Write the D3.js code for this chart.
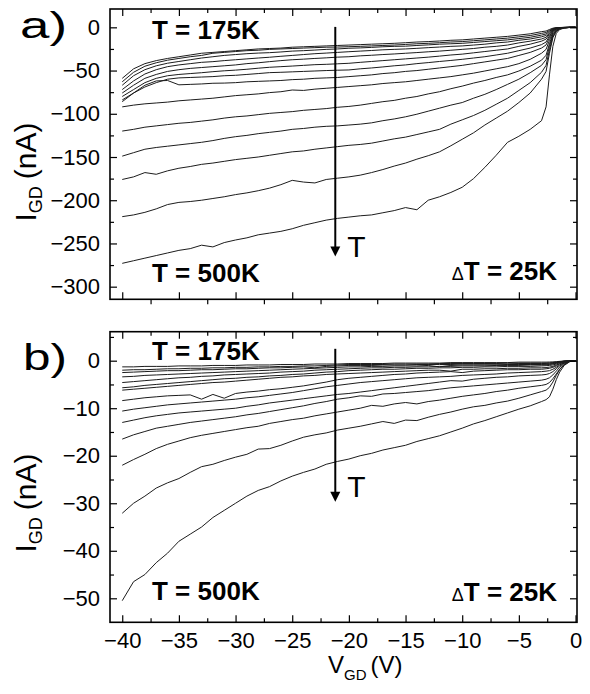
<!DOCTYPE html>
<html>
<head>
<meta charset="utf-8">
<script src="https://cdn.jsdelivr.net/npm/d3@7"></script>
<style>
  body { margin: 0; background: #fff; }
  svg { display: block; }
  text { font-family: "Liberation Sans", Arial, Helvetica, sans-serif; fill: #000; }
</style>
</head>
<body>
<svg id="chart" width="590" height="694"></svg>
<script>

// V_GD grid (V), shared by every curve
var vgd = [-40, -39, -38, -37, -36, -35, -34, -33, -32, -31, -30, -29, -28, -27, -26, -25, -24, -23, -22, -21,
  -20, -19, -18, -17, -16, -15, -14, -13, -12, -11, -10, -9, -8, -7, -6, -5, -4,
  -3, -2.6, -2.3, -2, -1.7, -1.4, -1, -0.5, 0];

// temperatures of the curves, 175 K to 500 K in 25 K steps
var temps = [175, 200, 225, 250, 275, 300, 325, 350, 375, 400, 425, 450, 475, 500];

// panel a : I_GD (nA), one array per temperature
var a175 = [-59, -48, -42, -38.5, -36, -34, -32, -30, -29, -28, -27, -26, -25, -24.5, -24, -23, -22.5, -22, -21.5, -21, -20.5, -20, -19.5, -19, -18.5, -17.8, -17, -16.5, -15.8, -15, -14.5, -13.5, -12.5, -11.5, -10.5, -9, -7.5, -5, -4.3, -2.5, -1, -0.4, -0.2, -0.1, 0, 0];
var a200 = [-63, -52, -45, -41, -38, -36, -34, -32.5, -30, -29, -28, -27, -26.5, -25.5, -25, -24.5, -24, -23.5, -23, -22.8, -22.4, -22, -21.5, -21, -20.5, -19.8, -19, -18.5, -17.8, -17, -16.5, -15.5, -14.5, -13.5, -12.5, -11, -9.5, -7, -6, -3.5, -1.4, -0.6, -0.25, -0.1, 0, 0];
var a225 = [-67, -56, -49, -44.5, -41.5, -39.5, -37.5, -35.5, -34, -32.5, -31.5, -30.5, -29.8, -29.3, -28.5, -27.5, -27, -26.3, -25.5, -25, -24.2, -23.8, -23.2, -22.5, -22, -21.8, -21, -20.3, -19.5, -19, -18.5, -17.5, -16.5, -15.5, -14.5, -13, -11.5, -9, -7.7, -4.5, -1.8, -0.7, -0.3, -0.1, 0, 0];
var a250 = [-72, -62, -54, -49, -45.5, -43.5, -42, -40.5, -39.7, -38.5, -37.5, -36.5, -35.5, -34.6, -33.5, -32.5, -31.5, -30.5, -29.8, -29, -28.2, -27.5, -26.8, -26, -25.5, -25, -24.3, -23.5, -22.8, -22, -21.5, -20.5, -19.5, -18, -17, -15, -13.5, -11, -9.4, -5.5, -2.2, -0.9, -0.4, -0.1, 0, 0];
var a275 = [-76, -67, -59, -54.5, -51, -49, -47.5, -46.5, -45.5, -44.5, -43.5, -42, -41, -39.7, -38.5, -37.5, -36.8, -36, -35.3, -34.5, -34, -33, -32.3, -31.5, -30.8, -30, -29.2, -28.3, -27.5, -26.5, -25.5, -24.5, -23, -22, -20.5, -18, -16, -13.5, -11.5, -6.8, -2.7, -1.1, -0.5, -0.2, 0, 0];
var a300 = [-80, -72, -64, -59, -56, -54.5, -53.5, -52.5, -51.3, -50.3, -49.5, -48.5, -47.3, -46.2, -45.5, -44.8, -44, -43.2, -42.8, -42.2, -41.6, -40.5, -39.5, -38.5, -37.5, -36.5, -35.5, -34.5, -33.3, -32, -31, -29.5, -28, -26.5, -25, -22, -19.5, -16, -13.6, -8, -3.2, -1.3, -0.6, -0.2, 0, 0];
var a325 = [-84, -76, -69, -64, -60, -58.5, -58, -57.5, -57, -56, -55.5, -54.5, -53.5, -52.4, -52, -51.5, -51, -50.5, -50, -49.6, -49.3, -48, -47, -45.8, -44.5, -43.5, -42, -40.8, -39.5, -38.3, -37, -35.5, -34, -32, -30, -27, -24, -20, -17, -10, -4, -1.6, -0.7, -0.2, 0, 0];
var a350 = [-86, -76, -67, -62, -61.5, -66.5, -66, -65.5, -64.7, -64.5, -64, -63, -62.5, -62, -61.5, -60.5, -60, -59, -58.5, -58, -57, -56, -55, -53.5, -52.5, -51, -50, -48.5, -47, -45.5, -44, -42, -40, -38, -36, -32.5, -29, -24, -20.4, -12, -4.8, -1.9, -0.8, -0.3, 0, 0];
var a375 = [-92, -90, -88.5, -87.5, -86.5, -85, -84, -83, -82, -80.5, -79, -78, -77, -75.5, -74.5, -72.5, -73, -71.5, -70.5, -69.5, -68.5, -67.5, -66.5, -65, -64, -63, -61.5, -60, -58.5, -57, -55, -53, -50.5, -48, -45.5, -42, -37, -30, -25.5, -15, -6, -2.4, -1, -0.4, -0.1, 0];
var a400 = [-120, -118, -115.5, -114, -112.5, -111, -110, -108.5, -107, -105, -103.5, -102.5, -101, -99.5, -98.5, -97.5, -96, -95, -94, -92.5, -91.5, -90, -88, -86, -84.5, -82, -80, -77, -74.5, -71, -68, -64.5, -61.5, -58, -55, -50.5, -45, -38, -32.3, -19, -7.6, -3, -1.3, -0.5, -0.1, 0];
var a425 = [-149, -145, -141, -139, -137.5, -136, -134.5, -133, -131, -128.5, -126.5, -125, -123, -121.5, -120, -118, -117, -115.5, -114.5, -114, -113, -112, -110.5, -108, -106, -103.5, -100.5, -97, -93.5, -90, -87, -82, -77.5, -72, -66, -60, -52.5, -44, -37.4, -22, -8.8, -3.5, -1.5, -0.5, -0.1, 0];
var a450 = [-176, -173, -168, -170, -166, -163, -161, -158.5, -157, -155, -153, -151.5, -150, -148, -146, -144, -143, -141, -139.5, -138, -136.5, -135.5, -134, -131.5, -129, -127, -124, -121, -118, -112, -107, -102, -96, -89, -82, -73, -64, -52, -44, -26, -10.5, -4.2, -1.8, -0.6, -0.1, 0];
var a475 = [-219, -217, -214, -210, -205, -202.5, -201.5, -200, -198, -196, -193.5, -191.5, -189, -186, -182, -177, -179, -180, -176, -174.5, -173, -171, -168, -164.5, -160.5, -157, -152.5, -148.5, -144, -137, -129.5, -122, -113, -105, -97, -87, -76, -60, -51, -30, -12, -4.8, -2, -0.7, -0.1, 0];
var a500 = [-273, -270, -267, -264, -261, -258, -256, -252, -254, -249, -246, -243.5, -240, -238, -236, -233, -229, -226, -223, -221, -219.5, -218, -217, -214.5, -212, -208.5, -211, -200, -196, -191, -185, -175, -162, -148, -133, -126, -118, -108, -92, -55, -22, -7, -2.5, -0.9, -0.2, 0];
var curvesA = [a175, a200, a225, a250, a275, a300, a325, a350, a375, a400, a425, a450, a475, a500];

// panel b : I_GD (nA), one array per temperature
var b175 = [-1.3, -1.3, -1.2, -1.2, -1.2, -1.1, -1.1, -1.1, -1, -1, -1, -0.9, -0.9, -0.9, -0.8, -0.8, -0.8, -0.7, -0.7, -0.7, -0.6, -0.6, -0.6, -0.6, -0.5, -0.5, -0.5, -0.5, -0.5, -0.4, -0.4, -0.4, -0.4, -0.4, -0.4, -0.3, -0.3, -0.3, -0.3, -0.28, -0.25, -0.2, -0.14, -0.06, -0.01, 0];
var b200 = [-2, -1.9, -1.9, -1.8, -1.7, -1.7, -1.6, -1.6, -1.5, -1.5, -1.4, -1.4, -1.3, -1.3, -1.2, -1.2, -1.1, -1.1, -1, -0.9, -0.8, -0.8, -0.8, -0.8, -0.7, -0.7, -0.7, -0.7, -0.6, -0.6, -0.6, -0.6, -0.6, -0.6, -0.5, -0.5, -0.5, -0.5, -0.48, -0.45, -0.4, -0.32, -0.22, -0.1, -0.02, 0];
var b225 = [-2.5, -2.4, -2.3, -2.2, -2.1, -2.1, -2, -1.9, -1.9, -1.8, -1.7, -1.7, -1.6, -1.5, -1.5, -1.4, -1.3, -1.5, -1.2, -1.1, -1, -1, -1, -0.9, -0.9, -0.9, -0.8, -0.8, -0.8, -0.8, -0.7, -0.7, -0.7, -0.7, -0.7, -0.6, -0.6, -0.6, -0.58, -0.55, -0.48, -0.38, -0.25, -0.1, -0.02, 0];
var b250 = [-3.4, -3.3, -3.1, -3, -2.9, -2.8, -2.7, -2.6, -2.5, -2.4, -2.3, -2.2, -2.1, -2, -1.9, -1.8, -1.7, -1.6, -1.5, -1.4, -1.3, -1.3, -1.2, -1.2, -1.1, -1.1, -1.1, -1, -1.3, -1, -0.9, -0.9, -0.9, -0.9, -0.8, -0.8, -0.8, -0.8, -0.75, -0.7, -0.6, -0.45, -0.3, -0.12, -0.02, 0];
var b275 = [-4.6, -4.4, -4.2, -4, -3.8, -3.6, -3.5, -3.3, -3.2, -3, -2.9, -2.8, -2.7, -2.6, -2.4, -2.3, -2.2, -2, -1.9, -1.8, -1.7, -1.6, -1.5, -1.5, -1.4, -1.4, -1.3, -1.3, -1.2, -1.2, -1.1, -1.1, -1.1, -1, -1, -1, -0.9, -0.9, -0.85, -0.8, -0.7, -0.55, -0.35, -0.15, -0.03, 0];
var b300 = [-5.7, -5.5, -5.2, -5, -4.8, -4.6, -4.4, -4.2, -4, -3.8, -3.7, -3.5, -3.4, -3.2, -3.1, -2.9, -2.8, -2.6, -2.4, -2.3, -2.1, -2, -1.9, -1.8, -1.8, -1.7, -1.6, -1.6, -1.5, -1.5, -1.4, -1.4, -1.3, -1.3, -1.2, -1.2, -1.2, -1.1, -1.05, -1, -0.9, -0.7, -0.45, -0.2, -0.05, 0];
var b325 = [-6.2, -6, -5.8, -5.6, -5.4, -5.2, -5, -4.8, -4.6, -4.5, -4.3, -4.1, -3.9, -3.7, -3.5, -3.4, -3.2, -3.1, -2.9, -2.8, -2.7, -2.6, -2.5, -2.4, -2.3, -2.2, -2.1, -2, -2, -2.2, -1.8, -1.8, -1.7, -1.7, -1.6, -1.6, -1.5, -1.5, -1.45, -1.35, -1.2, -0.9, -0.6, -0.25, -0.05, 0];
var b350 = [-8.4, -8.1, -7.8, -7.6, -7.4, -7.3, -7.2, -8.1, -7.1, -7.9, -6.9, -6.6, -6.4, -6.1, -5.9, -5.6, -5.3, -4.9, -4.5, -4, -3.7, -3.5, -3.3, -3.1, -2.9, -2.8, -2.6, -2.5, -2.4, -2.3, -2.5, -2.2, -2.1, -2, -1.9, -1.9, -1.8, -1.8, -1.7, -1.6, -1.4, -1.1, -0.7, -0.3, -0.05, 0];
var b375 = [-10.6, -10.2, -9.9, -9.6, -9.3, -9.1, -8.9, -8.7, -8.5, -8.3, -8.1, -7.8, -7.6, -7.3, -7, -6.7, -6.3, -5.9, -5.5, -5.2, -4.9, -4.6, -4.4, -4.2, -4, -3.8, -3.6, -3.5, -3.4, -3.3, -3.1, -3, -2.9, -2.8, -2.6, -2.5, -2.4, -2.3, -2.2, -2.1, -1.8, -1.4, -0.9, -0.4, -0.1, 0];
var b400 = [-13, -12.5, -12, -11.6, -11.3, -11, -10.8, -10.6, -10.4, -10.2, -10, -9.6, -9.3, -8.9, -8.6, -8.3, -8, -7.7, -7.4, -7.1, -6.9, -6.6, -6.3, -6, -5.7, -5.4, -5.1, -4.8, -4.5, -4.2, -4.3, -3.9, -3.7, -3.5, -3.4, -3.2, -3.1, -3, -2.9, -2.7, -2.3, -1.7, -1.1, -0.5, -0.1, 0];
var b425 = [-16.5, -15.6, -14.9, -14.2, -13.8, -13.4, -13, -12.7, -12.4, -12.1, -11.8, -11.4, -11.1, -10.7, -10.3, -9.9, -9.5, -9, -8.6, -8.1, -7.8, -7.4, -7.5, -7, -6.9, -6.7, -6.5, -6.3, -6, -5.7, -5.5, -5.3, -5.1, -4.9, -4.7, -4.5, -4.3, -4.1, -3.9, -3.6, -3, -2.2, -1.4, -0.6, -0.1, 0];
var b450 = [-22, -20.8, -19.7, -18.5, -17.6, -16.9, -16.2, -15.7, -15.3, -14.9, -14.5, -14.1, -13.8, -13.2, -12.8, -12.4, -12.1, -11.6, -11.2, -10.8, -10.4, -10, -9.4, -9.6, -9.1, -8.8, -9.1, -8.6, -8.3, -7.9, -7.5, -7.2, -6.9, -6.5, -6.2, -5.8, -5.5, -5.2, -5, -4.6, -3.8, -2.8, -1.8, -0.8, -0.15, 0];
var b475 = [-32.1, -30, -28.5, -26.8, -25.7, -24.8, -23.5, -22.3, -21.8, -21, -20.3, -19.7, -18.6, -18.5, -17.8, -16.9, -16.1, -15.6, -15.2, -14.6, -14.2, -13.8, -13.3, -12.8, -13.2, -12.5, -12.6, -11.9, -11.3, -10.8, -10.2, -9.7, -9.4, -8.9, -8.5, -7.9, -7.2, -6.5, -6.2, -5.6, -4.5, -3.1, -1.9, -0.8, -0.15, 0];
var b500 = [-50.5, -46.5, -45, -42.5, -40.5, -38, -36.5, -35, -33, -31.5, -30, -28.5, -27.3, -26.5, -25.3, -24.3, -23.5, -22.8, -21.8, -21.2, -20.7, -20, -19.5, -18.8, -18.3, -17.8, -17, -16.4, -15.8, -15, -14.2, -13.3, -12.6, -11.8, -11, -10.2, -9.5, -8.6, -8.2, -7.6, -6, -4, -2.4, -1, -0.2, 0];
var curvesB = [b175, b200, b225, b250, b275, b300, b325, b350, b375, b400, b425, b450, b475, b500];

// tick values
var xMajor = [-40, -35, -30, -25, -20, -15, -10, -5, 0];
var xMinor = [-37.5, -32.5, -27.5, -22.5, -17.5, -12.5, -7.5, -2.5];
var yMajorA = [0, -50, -100, -150, -200, -250, -300];
var yMinorA = [-25, -75, -125, -175, -225, -275];
var yMajorB = [0, -10, -20, -30, -40, -50];
var yMinorB = [5, -5, -15, -25, -35, -45];

var svg = d3.select("#chart");
var left = 110, right = 577;
var x = d3.scaleLinear().domain([-41.08, 0.13]).range([left, right]);
var fmt = d3.format("d");

var panels = [
  { id: "a", top: 9, bottom: 299.3, domain: [-314.6, 21.2], curves: curvesA,
    major: yMajorA, minor: yMinorA, xLabels: false,
    label: "a)", labelX: 20, labelY: 38, labelLen: 47,
    arrow: [-21.2, 0.5, -265], tY: 257,
    coldY: 39, hotY: 282, stepY: 280, titleY: 172 },
  { id: "b", top: 331.7, bottom: 622.3, domain: [-55.05, 6.1], curves: curvesB,
    major: yMajorB, minor: yMinorB, xLabels: true,
    label: "b)", labelX: 23, labelY: 370, labelLen: 44,
    arrow: [-21.2, 2.5, -29.7], tY: 497,
    coldY: 360, hotY: 600, stepY: 601, titleY: 503 }
];

function styleAxis(sel) {
  sel.select(".domain").remove();
  sel.attr("font-size", 22).attr("font-family", '"Liberation Sans", Arial, sans-serif');
  sel.selectAll(".tick line").attr("stroke", "#000").attr("stroke-width", 1.2);
  sel.selectAll(".tick text").attr("fill", "#000");
}

panels.forEach(function(p) {
  var y = d3.scaleLinear().domain(p.domain).range([p.bottom, p.top]);
  var g = svg.append("g").attr("class", "panel-" + p.id);

  svg.append("clipPath").attr("id", "clip-" + p.id)
    .append("rect").attr("x", left).attr("y", p.top)
    .attr("width", right - left).attr("height", p.bottom - p.top);

  // I-V curves
  var line = d3.line().x(function(d) { return x(d[0]); }).y(function(d) { return y(d[1]); });
  g.append("g").attr("clip-path", "url(#clip-" + p.id + ")")
    .selectAll("path")
    .data(p.curves)
    .enter()
    .append("path")
    .attr("d", function(c) { return line(d3.zip(vgd, c)); })
    .attr("fill", "none")
    .attr("stroke", "#1c1c1c")
    .attr("stroke-width", 1)
    .attr("stroke-linejoin", "round");

  // ticks, all pointing inward except the minor ones under panel a
  g.append("g").attr("transform", "translate(" + left + ",0)")
    .call(d3.axisLeft(y).tickValues(p.major).tickSize(-7).tickPadding(10).tickFormat(fmt)).call(styleAxis);
  g.append("g").attr("transform", "translate(" + left + ",0)")
    .call(d3.axisLeft(y).tickValues(p.minor).tickSize(-4).tickFormat("")).call(styleAxis);
  g.append("g").attr("transform", "translate(" + right + ",0)")
    .call(d3.axisRight(y).tickValues(p.major).tickSize(-7).tickFormat("")).call(styleAxis);
  g.append("g").attr("transform", "translate(" + right + ",0)")
    .call(d3.axisRight(y).tickValues(p.minor).tickSize(-4).tickFormat("")).call(styleAxis);
  g.append("g").attr("transform", "translate(0," + p.top + ")")
    .call(d3.axisTop(x).tickValues(xMajor).tickSize(-7).tickFormat("")).call(styleAxis);
  g.append("g").attr("transform", "translate(0," + p.top + ")")
    .call(d3.axisTop(x).tickValues(xMinor).tickSize(-4).tickFormat("")).call(styleAxis);
  g.append("g").attr("transform", "translate(0," + p.bottom + ")")
    .call(d3.axisBottom(x).tickValues(xMajor).tickSize(-7).tickPadding(10)
      .tickFormat(p.xLabels ? fmt : "")).call(styleAxis);
  g.append("g").attr("transform", "translate(0," + p.bottom + ")")
    .call(d3.axisBottom(x).tickValues(xMinor).tickSize(p.xLabels ? -4 : 5).tickFormat("")).call(styleAxis);

  // frame
  g.append("rect")
    .attr("x", left).attr("y", p.top)
    .attr("width", right - left).attr("height", p.bottom - p.top)
    .attr("fill", "none").attr("stroke", "#000").attr("stroke-width", 1.6);

  // panel letter
  g.append("text")
    .attr("x", p.labelX).attr("y", p.labelY)
    .attr("font-size", 36)
    .attr("textLength", p.labelLen).attr("lengthAdjust", "spacingAndGlyphs")
    .text(p.label);

  // temperature annotations
  g.append("text").attr("x", 152).attr("y", p.coldY)
    .attr("font-size", 26).attr("font-weight", "bold").text("T = " + temps[0] + "K");
  g.append("text").attr("x", 152).attr("y", p.hotY)
    .attr("font-size", 26).attr("font-weight", "bold").text("T = " + temps[temps.length - 1] + "K");
  var step = g.append("text").attr("x", 557).attr("y", p.stepY).attr("text-anchor", "end");
  step.append("tspan").attr("font-size", 18).text("\u0394");
  step.append("tspan").attr("font-size", 26).attr("font-weight", "bold").text("T = " + (temps[1] - temps[0]) + "K");

  // arrow of increasing T
  var ax = x(p.arrow[0]), ay0 = y(p.arrow[1]), ay1 = y(p.arrow[2]);
  g.append("line")
    .attr("x1", ax).attr("x2", ax).attr("y1", ay0).attr("y2", ay1 - 8)
    .attr("stroke", "#000").attr("stroke-width", 2);
  g.append("path")
    .attr("d", "M" + (ax - 5) + "," + (ay1 - 10) + "L" + (ax + 5) + "," + (ay1 - 10) + "L" + ax + "," + ay1 + "Z")
    .attr("fill", "#000");
  g.append("text").attr("x", ax + 12).attr("y", p.tY).attr("font-size", 30).text("T");

  // y axis title
  var yt = g.append("text")
    .attr("transform", "translate(36," + p.titleY + ") rotate(-90)")
    .attr("text-anchor", "middle").attr("font-size", 30);
  yt.append("tspan").text("I");
  yt.append("tspan").attr("font-size", 18).attr("dy", 6).text("GD");
  yt.append("tspan").attr("dy", -6).attr("dx", 7).text("(nA)");
});

// x axis title
var xt = svg.append("text").attr("x", 328).attr("y", 673).attr("font-size", 24);
xt.append("tspan").text("V");
xt.append("tspan").attr("font-size", 15).attr("dy", 7).text("GD");
xt.append("tspan").attr("dy", -7).attr("dx", 4).text("(V)");

</script>
</body>
</html>
